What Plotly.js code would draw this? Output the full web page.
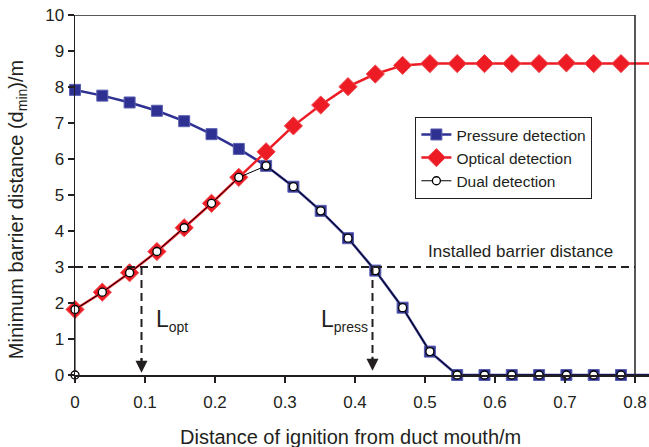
<!DOCTYPE html>
<html>
<head>
<meta charset="utf-8">
<script src="https://cdn.plot.ly/plotly-3.0.1.min.js"></script>
<style>html,body{margin:0;padding:0;background:#fff;}#chart{width:649px;height:447px;}</style>
</head>
<body>
<div id="chart"></div>
<script>
// Distance of ignition from duct mouth (m)
const xs = [0,0.039,0.078,0.117,0.156,0.195,0.234,0.273,0.312,0.351,0.39,0.429,0.468,0.507,0.546,0.585,0.624,0.663,0.702,0.741,0.78,0.858];
const pressure = [7.92,7.76,7.57,7.34,7.05,6.69,6.28,5.81,5.23,4.56,3.80,2.90,1.87,0.65,0,0,0,0,0,0,0,0];
const optical = [1.82,2.30,2.84,3.43,4.09,4.77,5.49,6.20,6.92,7.50,8.01,8.36,8.60,8.65,8.65,8.65,8.65,8.65,8.67,8.65,8.65,8.65];
const dualX = [0,0,0.039,0.078,0.117,0.156,0.195,0.234,0.273,0.312,0.351,0.39,0.429,0.468,0.507,0.546,0.585,0.624,0.663,0.702,0.741,0.78,0.858];
const dual = [0,1.82,2.30,2.84,3.43,4.09,4.77,5.49,5.81,5.23,4.56,3.80,2.90,1.87,0.65,0,0,0,0,0,0,0,0];
const xTicks = [0,0.1,0.2,0.3,0.4,0.5,0.6,0.7,0.8];
const xTickText = ['0','0.1','0.2','0.3','0.4','0.5','0.6','0.7','0.8'];
const yTicks = [0,1,2,3,4,5,6,7,8,9,10];
const installedBarrier = 3;
const Lopt = 0.095;
const Lpress = 0.425;

const ink = '#231f20';
const font = 'Liberation Sans, Arial, Helvetica, sans-serif';

const traces = [
  {x: xs, y: pressure, name: 'Pressure detection', mode: 'lines+markers', cliponaxis: false,
   line: {color: '#2e3192', width: 2.5},
   marker: {symbol: 'square', size: 11, color: '#2e3192', line: {color: '#5a5eb0', width: 1}}},
  {x: xs, y: optical, name: 'Optical detection', mode: 'lines+markers', cliponaxis: false,
   line: {color: '#ed1c24', width: 2.5},
   marker: {symbol: 'diamond', size: 14, color: '#ed1c24', line: {color: '#f04a50', width: 1}}},
  {x: dualX, y: dual, name: 'Dual detection', mode: 'lines+markers', cliponaxis: false,
   line: {color: '#000', width: 1},
   marker: {symbol: 'circle', size: 8, color: '#fff', line: {color: '#000', width: 1.3}}}
];

const dashed = {color: ink, width: 2, dash: '8px,5px'};

const layout = {
  width: 649, height: 447,
  margin: {l: 75, r: 0, t: 15, b: 72},
  paper_bgcolor: '#fff', plot_bgcolor: '#fff',
  font: {family: font, color: ink, size: 17},
  showlegend: true,
  legend: {x: 0.593, y: 0.717, xanchor: 'left', yanchor: 'top', bgcolor: '#fff',
           bordercolor: ink, borderwidth: 1, font: {size: 15.5, color: ink},
           tracegroupgap: 0, itemwidth: 30},
  xaxis: {range: [0, 0.82], tickvals: xTicks, ticktext: xTickText, showgrid: false, zeroline: false,
          showline: true, linecolor: ink, linewidth: 1.5, ticks: 'outside', ticklen: 6, tickwidth: 1.2,
          tickcolor: ink, tickfont: {size: 17, color: ink}, ticklabelstandoff: 5},
  yaxis: {range: [0, 10], tickvals: yTicks, showgrid: false, zeroline: false,
          showline: true, linecolor: ink, linewidth: 1.5, ticks: 'outside', ticklen: 6, tickwidth: 1.2,
          tickcolor: ink, tickfont: {size: 17, color: ink}},
  shapes: [
    {type: 'line', xref: 'x', yref: 'y', x0: 0, x1: 0.8, y0: 10, y1: 10, line: {color: ink, width: 1.5}},
    {type: 'line', xref: 'x', yref: 'y', x0: 0.8, x1: 0.8, y0: 0, y1: 10, line: {color: ink, width: 1.5}},
    {type: 'line', xref: 'x', yref: 'y', x0: 0, x1: 0.8, y0: installedBarrier, y1: installedBarrier, line: dashed},
    {type: 'line', xref: 'x', yref: 'y', x0: Lopt, x1: Lopt, y0: installedBarrier, y1: 0.4, line: dashed},
    {type: 'line', xref: 'x', yref: 'y', x0: Lpress, x1: Lpress, y0: installedBarrier, y1: 0.45, line: dashed}
  ],
  annotations: [
    {x: Lopt, y: 0.06, ax: Lopt, ay: 0.5, xref: 'x', yref: 'y', axref: 'x', ayref: 'y', text: '',
     showarrow: true, arrowhead: 2, arrowsize: 1.2, arrowwidth: 2, arrowcolor: ink},
    {x: Lpress, y: 0.12, ax: Lpress, ay: 0.55, xref: 'x', yref: 'y', axref: 'x', ayref: 'y', text: '',
     showarrow: true, arrowhead: 2, arrowsize: 1.2, arrowwidth: 2, arrowcolor: ink},
    {x: 0.113, y: 1.52, xref: 'x', yref: 'y', xanchor: 'left', yanchor: 'middle', showarrow: false,
     text: 'L<sub><span style="font-size:14px">opt</span></sub>', font: {size: 23, color: ink}},
    {x: 0.349, y: 1.52, xref: 'x', yref: 'y', xanchor: 'left', yanchor: 'middle', showarrow: false,
     text: 'L<sub><span style="font-size:14px">press</span></sub>', font: {size: 23, color: ink}},
    {x: 0.636, y: 3.42, xref: 'x', yref: 'y', xanchor: 'center', yanchor: 'middle', showarrow: false,
     text: 'Installed barrier distance', font: {size: 17, color: ink}},
    {x: 0.393, y: -0.172, xref: 'x', yref: 'paper', xanchor: 'center', yanchor: 'middle', showarrow: false,
     text: 'Distance of ignition from duct mouth/m', font: {size: 20, color: ink}},
    {x: -0.101, y: 0.458, xref: 'paper', yref: 'paper', xanchor: 'center', yanchor: 'middle', showarrow: false,
     textangle: -90, text: 'Minimum barrier distance (d<sub>min</sub>)/m', font: {size: 20, color: ink}}
  ]
};

Plotly.newPlot('chart', traces, layout, {displayModeBar: false, staticPlot: true});
</script>
</body>
</html>
